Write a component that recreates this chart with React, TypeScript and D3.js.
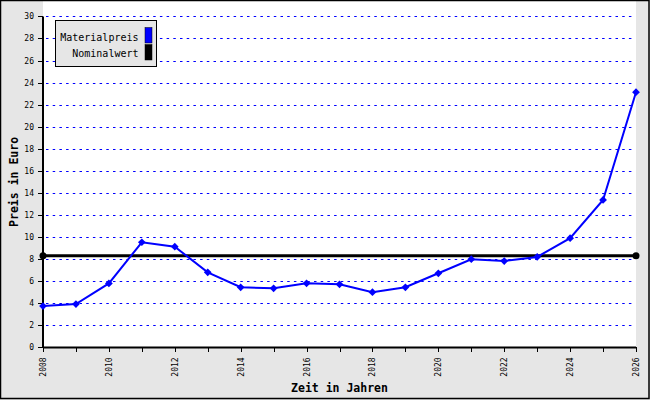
import React from "react";
import * as d3 from "d3";

const years: number[] = [2008, 2009, 2010, 2011, 2012, 2013, 2014, 2015, 2016, 2017, 2018, 2019, 2020, 2021, 2022, 2023, 2024, 2025, 2026];
const materialpreis: number[] = [3.75, 3.93, 5.8, 9.53, 9.13, 6.8, 5.45, 5.36, 5.81, 5.72, 5.0, 5.45, 6.72, 7.99, 7.83, 8.2, 9.9, 13.36, 23.13];
const nominalYears: number[] = [2008, 2026];
const nominalwert: number[] = [8.3, 8.3];
const yTicks: number[] = [0, 2, 4, 6, 8, 10, 12, 14, 16, 18, 20, 22, 24, 26, 28, 30];
const xLabelYears: number[] = [2008, 2010, 2012, 2014, 2016, 2018, 2020, 2022, 2024, 2026];
const seriesNames: string[] = ["Materialpreis", "Nominalwert"];
const seriesColors: string[] = ["#0000ff", "#000000"];

const W = 650, H = 400;
const left = 43, right = 636, top = 16.4, bottom = 347.4;
const mono = "'DejaVu Sans Mono', 'Liberation Mono', monospace";

export default function App() {
  const x = d3.scaleLinear().domain([2008, 2026]).range([left, right]);
  const y = d3.scaleLinear().domain([0, 30]).range([bottom, top]);
  const line = d3.line<[number, number]>().x(d => x(d[0])).y(d => y(d[1]));
  const matData: [number, number][] = years.map((yr, i) => [yr, materialpreis[i]]);
  const nomData: [number, number][] = nominalYears.map((yr, i) => [yr, nominalwert[i]]);
  const diamond = d3.symbol().type(d3.symbolSquare).size(30)() as string;

  return (
    <svg width={W} height={H} style={{ position: "absolute", left: 0, top: 0, display: "block" }}>
      <rect x={0} y={0} width={W} height={H} fill="#e6e6e6" />
      <rect x={left} y={1} width={right - left} height={bottom - 1} fill="#ffffff" />
      {/* grid */}
      {yTicks.filter(t => t > 0).map(t => (
        <line key={"g" + t} x1={left + 3} x2={right - 1} y1={Math.round(y(t)) + 0.5} y2={Math.round(y(t)) + 0.5}
          stroke="#0000ff" strokeWidth={1.2} strokeDasharray="2.5,4.2" />
      ))}
      {/* y axis */}
      <line x1={left} x2={left} y1={top} y2={bottom} stroke="#000" strokeWidth={2} />
      {yTicks.map(t => (
        <g key={"y" + t}>
          <line x1={left - 5} x2={left} y1={Math.round(y(t)) + 0.5} y2={Math.round(y(t)) + 0.5} stroke="#000" strokeWidth={1} shapeRendering="crispEdges" />
          <text x={left - 9} y={y(t) + 3} textAnchor="end" fontFamily={mono} fontSize={8} fill="#000">{t}</text>
        </g>
      ))}
      {/* x axis */}
      <line x1={left} x2={right} y1={bottom} y2={bottom} stroke="#000" strokeWidth={2} />
      {years.map(yr => (
        <line key={"xt" + yr} x1={Math.round(x(yr)) + 0.5} x2={Math.round(x(yr)) + 0.5} y1={bottom} y2={bottom + 5} stroke="#000" strokeWidth={1} shapeRendering="crispEdges" />
      ))}
      {xLabelYears.map(yr => (
        <text key={"xl" + yr} transform={`translate(${x(yr) + 3},${bottom + 10}) rotate(-90)`} textAnchor="end"
          fontFamily={mono} fontSize={8} fill="#000">{yr}</text>
      ))}
      {/* axis titles */}
      <text transform={`translate(18,${(top + bottom) / 2}) rotate(-90)`} textAnchor="middle" fontFamily={mono}
        fontWeight="bold" fontSize={11.5} fill="#000">Preis in Euro</text>
      <text x={(left + right) / 2} y={392} textAnchor="middle" fontFamily={mono} fontWeight="bold" fontSize={11.5} fill="#000">Zeit in Jahren</text>
      {/* nominal line */}
      <path d={line(nomData) as string} fill="none" stroke={seriesColors[1]} strokeWidth={3} />
      {nomData.map((d, i) => (
        <circle key={"n" + i} cx={x(d[0])} cy={y(d[1])} r={3.5} fill="#000" />
      ))}
      {/* material line */}
      <path d={line(matData) as string} fill="none" stroke={seriesColors[0]} strokeWidth={2} />
      {matData.map((d, i) => (
        <path key={"m" + i} d={diamond} transform={`translate(${x(d[0])},${y(d[1])}) rotate(45)`} fill={seriesColors[0]} />
      ))}
      {/* legend */}
      <rect x={55.5} y={20.5} width={101} height={46} fill="#e6e6e6" stroke="#000" strokeWidth={1} />
      {seriesNames.map((n, i) => (
        <g key={"lg" + i}>
          <text x={138.5} y={40.5 + i * 16.5} textAnchor="end" fontFamily={mono} fontSize={10} fill="#000">{n}</text>
          <rect x={145} y={27.5 + i * 17} width={7} height={15.5} fill={seriesColors[i]} stroke="#000" strokeWidth={0.5} />
        </g>
      ))}
      {/* outer border */}
      <rect x={0.5} y={0.5} width={W - 1.5} height={H - 2} fill="none" stroke="#000" strokeWidth={1.5} />
    </svg>
  );
}
